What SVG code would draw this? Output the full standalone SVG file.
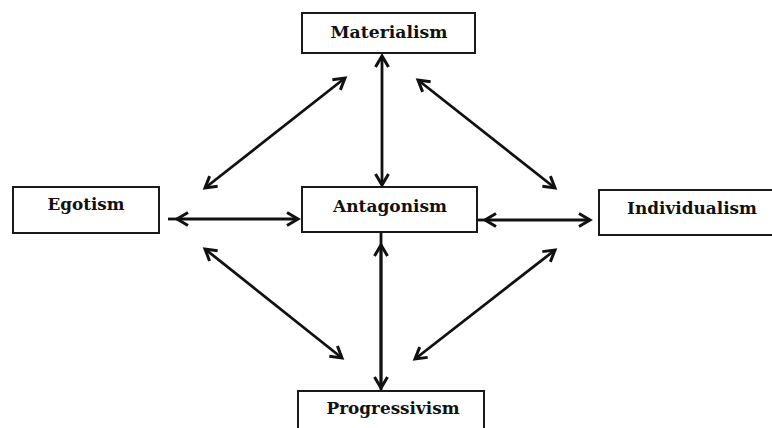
<svg xmlns="http://www.w3.org/2000/svg" width="772" height="428" viewBox="0 0 772 428">
<defs>
<style>
.box{fill:#fff;stroke:#1a1a1a;stroke-width:2}
.lbl{font-family:"DejaVu Serif","Liberation Serif",serif;font-weight:bold;font-size:16.5px;fill:#111;text-anchor:middle}
.con{stroke:#111;stroke-width:2.8;fill:none}
.arr{marker-start:url(#ah);marker-end:url(#ah)}
</style>
<marker id="ah" markerUnits="userSpaceOnUse" markerWidth="18" markerHeight="18" refX="14" refY="9" orient="auto-start-reverse" viewBox="0 0 18 18">
<path d="M3,2.5 L14,9 L3,15.5" fill="none" stroke="#111" stroke-width="3" stroke-linejoin="miter"/>
</marker>
</defs>
<rect width="772" height="428" fill="#fff"/>
<g id="connectors">
<line class="con arr" x1="382" y1="56" x2="382" y2="185"/>
<line class="con arr" x1="345" y1="78" x2="205" y2="188"/>
<line class="con arr" x1="418" y1="80" x2="555" y2="188"/>
<line class="con" x1="168" y1="219" x2="178" y2="219"/>
<line class="con arr" x1="177" y1="219" x2="298" y2="219"/>
<line class="con" x1="477" y1="220" x2="486" y2="220"/>
<line class="con arr" x1="485" y1="220" x2="590" y2="220"/>
<line class="con arr" x1="205" y1="249" x2="342" y2="358"/>
<line class="con arr" x1="555" y1="250" x2="415" y2="359"/>
<line class="con" x1="381" y1="232" x2="381" y2="391"/>
<line class="con arr" x1="381" y1="245" x2="381" y2="388"/>
</g>
<g id="materialism">
<rect class="box" x="302" y="13" width="173" height="40"/>
<text class="lbl" x="389" y="38" textLength="117" lengthAdjust="spacingAndGlyphs">Materialism</text>
</g>
<g id="egotism">
<rect class="box" x="13" y="187" width="146" height="46"/>
<text class="lbl" x="86" y="210" textLength="77" lengthAdjust="spacingAndGlyphs">Egotism</text>
</g>
<g id="antagonism">
<rect class="box" x="302" y="187" width="175" height="45"/>
<text class="lbl" x="390" y="212" textLength="114" lengthAdjust="spacingAndGlyphs">Antagonism</text>
</g>
<g id="individualism">
<rect class="box" x="599" y="190" width="180" height="45"/>
<text class="lbl" x="692" y="214" textLength="130" lengthAdjust="spacingAndGlyphs">Individualism</text>
</g>
<g id="progressivism">
<rect class="box" x="298" y="391" width="186" height="50"/>
<text class="lbl" x="393" y="414" textLength="133" lengthAdjust="spacingAndGlyphs">Progressivism</text>
</g>
</svg>
